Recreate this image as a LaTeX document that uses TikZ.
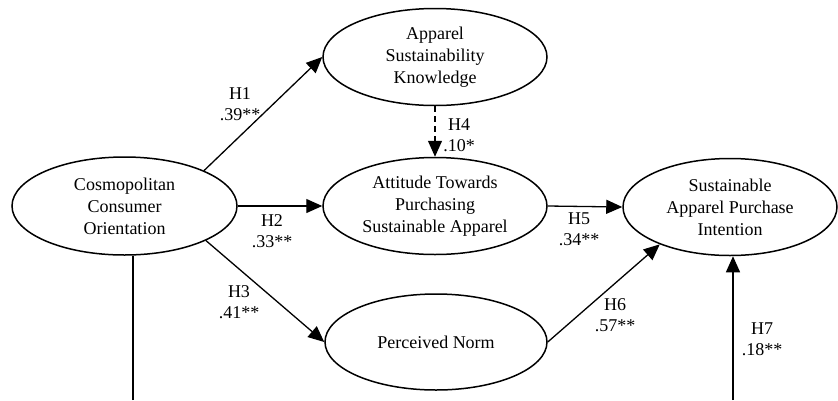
\documentclass[tikz,border=0pt]{standalone}
\usepackage{fontspec}
\setmainfont{Liberation Serif}
\usetikzlibrary{shapes.geometric,arrows.meta}
\begin{document}
\begin{tikzpicture}[x=1pt,y=-1pt,
  construct/.style={draw,ellipse,line width=1.5pt,inner sep=0pt,minimum width=224pt,minimum height=97pt,
    align=center,font=\fontsize{18}{22}\selectfont},
  path/.style={line width=1.3pt,-{Triangle[length=16pt,width=14pt]}},
  plain/.style={line width=1.3pt},
  lbl/.style={align=center,inner sep=0pt,font=\fontsize{18}{20.5}\selectfont}]
\useasboundingbox (0,0) rectangle (838,400);
\node[construct] (ask) at (435,57) {Apparel\\Sustainability\\Knowledge};
\node[construct,minimum width=225pt,minimum height=98pt] (cco) at (124.5,206) {Cosmopolitan\\Consumer\\Orientation};
\node[construct] (atp) at (435,206) {Attitude Towards\\Purchasing\\Sustainable Apparel};
\node[construct,minimum width=222pt,minimum height=96pt] (pn) at (436,342) {Perceived Norm};
\node[construct,minimum width=214pt,minimum height=97pt] (sapi) at (730,207) {Sustainable\\Apparel Purchase\\Intention};
\coordinate (ccob) at (133,400);
\coordinate (sapib) at (733,400);
\draw[path] (cco.24) -- (ask.west);
\draw[path] (cco.east) -- (atp.west);
\draw[path] (cco.-23) -- (pn.west);
\draw[path,dashed,dash pattern=on 6pt off 4pt] (ask.south) -- (atp.north);
\draw[path] (atp.east) -- (sapi.west);
\draw[path] (pn.east) -- (sapi.208);
\draw[path] (sapib) -- (sapib |- sapi.south);
\draw[plain] (ccob) -- (ccob |- cco.south);
\node[lbl] (h1) at (240,104) {H1\\.39**};
\node[lbl] (h2) at (272,231) {H2\\.33**};
\node[lbl] (h3) at (239,302) {H3\\.41**};
\node[lbl] (h4) at (459,135) {H4\\.10*};
\node[lbl] (h5) at (579,229) {H5\\.34**};
\node[lbl] (h6) at (615,315) {H6\\.57**};
\node[lbl] (h7) at (762,339) {H7\\.18**};
\end{tikzpicture}
\end{document}
